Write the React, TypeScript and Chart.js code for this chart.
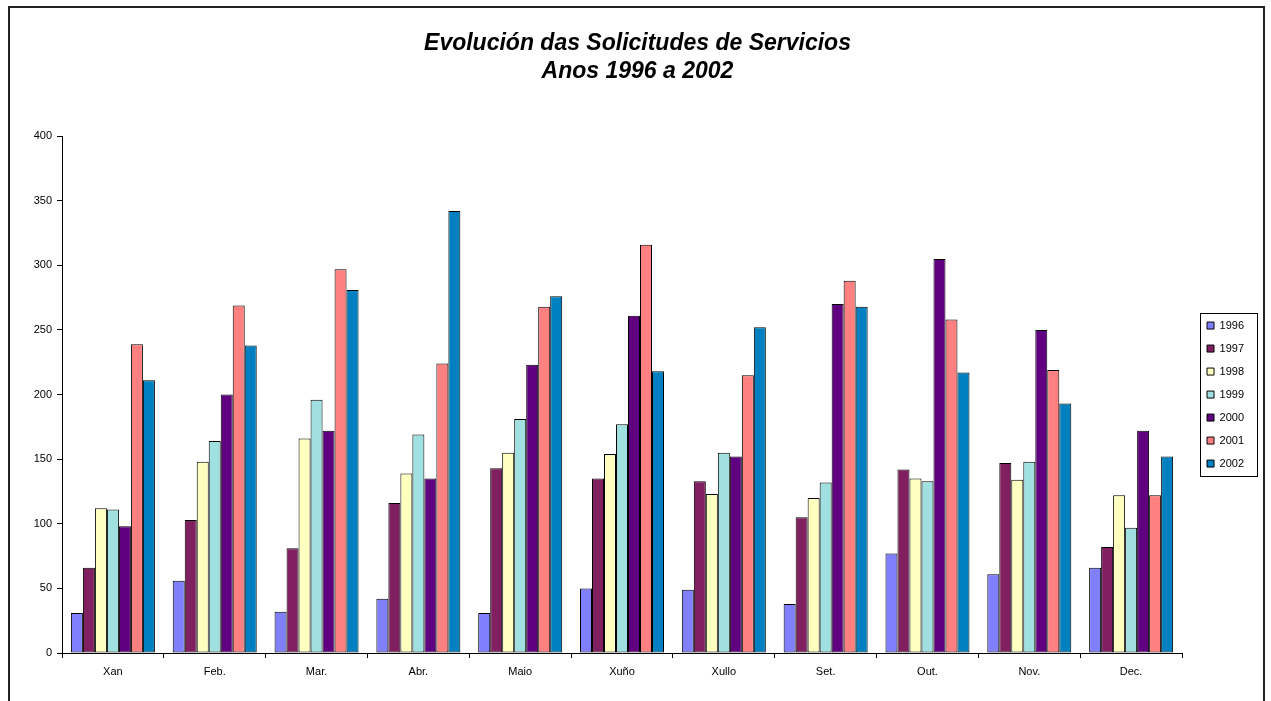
import React, { useEffect, useRef } from "react";
import { Chart, registerables } from "chart.js";

Chart.register(...registerables);

const months = ["Xan", "Feb.", "Mar.", "Abr.", "Maio", "Xuño", "Xullo", "Set.", "Out.", "Nov.", "Dec."];
const years = ["1996", "1997", "1998", "1999", "2000", "2001", "2002"];

const v1996 = [31, 56, 32, 42, 31, 50, 49, 38, 77, 61, 66];
const v1997 = [66, 103, 81, 116, 143, 135, 133, 105, 142, 147, 82];
const v1998 = [112, 148, 166, 139, 155, 154, 123, 120, 135, 134, 122];
const v1999 = [111, 164, 196, 169, 181, 177, 155, 132, 133, 148, 97];
const v2000 = [98, 200, 172, 135, 223, 261, 152, 270, 305, 250, 172];
const v2001 = [239, 269, 297, 224, 268, 316, 215, 288, 258, 219, 122];
const v2002 = [211, 238, 281, 342, 276, 218, 252, 268, 217, 193, 152];

const seriesValues = [v1996, v1997, v1998, v1999, v2000, v2001, v2002];
const seriesColors = ["#8080FF", "#802060", "#FFFFC0", "#A0E0E0", "#600080", "#FF8080", "#0080C0"];

const titleLines = ["Evolución das Solicitudes de Servicios", "Anos 1996 a 2002"];

const FONT = "'Liberation Sans', Arial, sans-serif";

export default function App() {
  const ref = useRef<HTMLCanvasElement | null>(null);

  useEffect(() => {
    document.body.style.margin = "0";
    const canvas = ref.current;
    if (!canvas) return;

    const framePlugin = {
      id: "frame",
      beforeDraw(chart: any) {
        const ctx = chart.ctx;
        ctx.save();
        ctx.fillStyle = "#ffffff";
        ctx.fillRect(0, 0, chart.width, chart.height);
        ctx.fillStyle = "#222222";
        ctx.fillRect(8, 6, 1257, 2);
        ctx.fillRect(8, 6, 2, chart.height);
        ctx.fillRect(1263, 6, 2, chart.height);
        ctx.restore();
      },
    };

    const layoutShift = {
      id: "layoutShift",
      afterLayout(chart: any) {
        const lg = chart.legend;
        if (lg) {
          lg.left += 13;
          lg.right += 13;
        }
        const tb = chart.titleBlock;
        if (tb) {
          tb.left += 11;
          tb.right += 11;
        }
      },
      afterDraw(chart: any) {
        const lg = chart.legend;
        if (!lg || !lg.legendHitBoxes || !lg.legendHitBoxes.length) return;
        const hb = lg.legendHitBoxes;
        const first = hb[0];
        const last = hb[hb.length - 1];
        const ctx = chart.ctx;
        const left = lg.left + 5;
        const top = first.top - 7;
        const bottom = last.top + last.height + 7;
        ctx.save();
        ctx.strokeStyle = "#000";
        ctx.lineWidth = 1;
        ctx.strokeRect(Math.round(left) + 0.5, Math.round(top) + 0.5, 57, Math.round(bottom - top));
        ctx.restore();
      },
    };

    const chart = new Chart(canvas, {
      type: "bar",
      data: {
        labels: months,
        datasets: years.map((y, i) => ({
          label: y,
          data: seriesValues[i],
          backgroundColor: seriesColors[i],
          borderColor: "#000000",
          borderWidth: 1,
          borderSkipped: false,
          barPercentage: 1.0,
          categoryPercentage: 0.825,
        })),
      },
      options: {
        responsive: false,
        animation: false,
        devicePixelRatio: 1,
        layout: { padding: { left: 12, right: 30, top: 0, bottom: 18 } },
        font: { family: FONT },
        plugins: {
          title: {
            display: true,
            text: titleLines,
            color: "#000",
            font: { family: FONT, size: 23, weight: "bold", style: "italic", lineHeight: 1.22 },
            padding: { top: 30, bottom: 50 },
          },
          legend: {
            position: "right",
            fullSize: false,
            labels: {
              boxWidth: 7,
              boxHeight: 7,
              padding: 12,
              color: "#000",
              font: { family: FONT, size: 11 },
            },
          },
          tooltip: { enabled: false },
        },
        scales: {
          x: {
            afterFit(scale: any) {
              scale.height = 30;
            },
            grid: {
              offset: true,
              drawOnChartArea: false,
              drawTicks: true,
              tickLength: 5,
              color: "#000",
            },
            border: { display: true, color: "#000", width: 1 },
            ticks: { color: "#000", padding: 7, font: { family: FONT, size: 11 }, maxRotation: 0 },
          },
          y: {
            min: 0,
            max: 400,
            afterFit(scale: any) {
              scale.width = 50;
            },
            grid: {
              drawOnChartArea: false,
              drawTicks: true,
              tickLength: 5,
              color: "#000",
            },
            border: { display: true, color: "#000", width: 1 },
            ticks: { stepSize: 50, color: "#000", padding: 5, font: { family: FONT, size: 11 } },
          },
        },
      },
      plugins: [framePlugin, layoutShift],
    } as any);

    return () => {
      chart.destroy();
    };
  }, []);

  return (
    <div style={{ width: 1271, height: 701, position: "relative" }}>
      <canvas ref={ref} width={1271} height={701} style={{ display: "block", width: 1271, height: 701 }} />
    </div>
  );
}
